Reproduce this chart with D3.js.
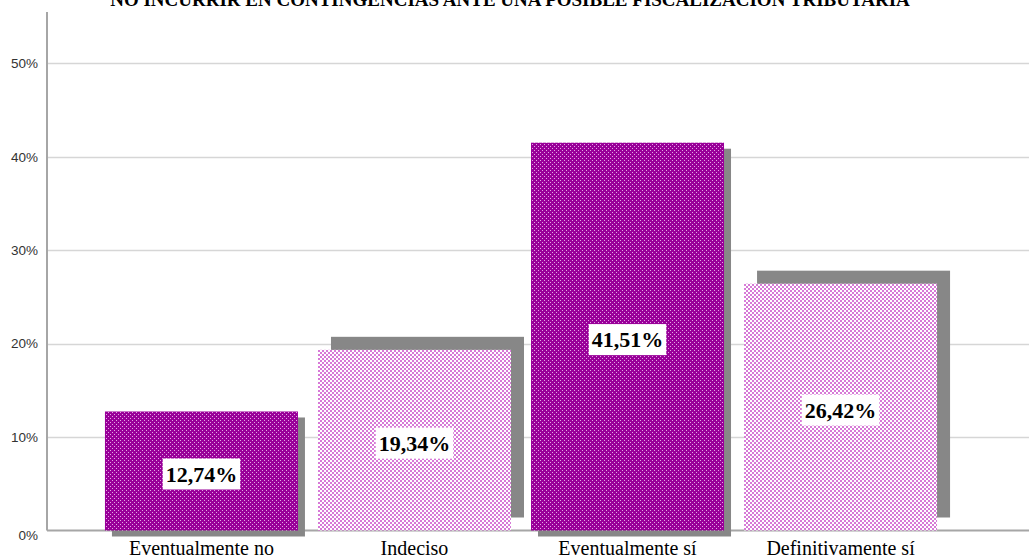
<!DOCTYPE html>
<html>
<head>
<meta charset="utf-8">
<script src="https://cdn.jsdelivr.net/npm/d3@7"></script>
<style>
  html, body { margin: 0; padding: 0; background: #fff; }
  svg { display: block; }
</style>
</head>
<body>
<svg id="chart" width="1029" height="560"></svg>
<script>
// Survey responses (percentage of respondents)
const chartTitle = "NO INCURRIR EN CONTINGENCIAS ANTE UNA POSIBLE FISCALIZACIÓN TRIBUTARIA";
const categories = ["Eventualmente no", "Indeciso", "Eventualmente sí", "Definitivamente sí"];
const percentages = [12.74, 19.34, 41.51, 26.42];
const yTicks = [0, 10, 20, 30, 40, 50];

const svg = d3.select("#chart");
const W = 1029, H = 560;
const axisX = 47, baseY = 530.5, topY = 12;

const x = d3.scaleBand()
  .domain(categories)
  .range([axisX, 995])
  .paddingInner(0.094)
  .paddingOuter(0.272);

const y = d3.scaleLinear()
  .domain([0, 55.5])
  .range([baseY, topY]);

// dotted fills
const defs = svg.append("defs");
const dark = defs.append("pattern")
  .attr("id", "dotDark").attr("width", 4).attr("height", 4)
  .attr("patternUnits", "userSpaceOnUse");
dark.append("rect").attr("width", 4).attr("height", 4).attr("fill", "#990099");
dark.append("rect").attr("x", 0).attr("y", 0).attr("width", 1).attr("height", 1).attr("fill", "#e4a6e4");
dark.append("rect").attr("x", 2).attr("y", 2).attr("width", 1).attr("height", 1).attr("fill", "#e4a6e4");

const light = defs.append("pattern")
  .attr("id", "dotLight").attr("width", 4).attr("height", 4)
  .attr("patternUnits", "userSpaceOnUse");
light.append("rect").attr("width", 4).attr("height", 4).attr("fill", "#ffffff");
light.append("rect").attr("x", 0).attr("y", 0).attr("width", 2).attr("height", 2).attr("fill", "#d77ad7");
light.append("rect").attr("x", 2).attr("y", 2).attr("width", 2).attr("height", 2).attr("fill", "#d77ad7");

// title (sits at the very top edge)
svg.append("text")
  .attr("x", 510).attr("y", 6)
  .attr("text-anchor", "middle")
  .attr("font-family", "'Liberation Serif', 'Times New Roman', serif")
  .attr("font-weight", "bold")
  .attr("font-size", 19)
  .attr("fill", "#000")
  .text(chartTitle);

// gridlines
svg.append("g")
  .selectAll("line")
  .data(yTicks.filter(d => d > 0))
  .join("line")
  .attr("x1", axisX).attr("x2", W)
  .attr("y1", d => Math.round(y(d)) + 0.5).attr("y2", d => Math.round(y(d)) + 0.5)
  .attr("stroke", "#d6d6d6").attr("stroke-width", 1.5);

// y axis
const yAxis = d3.axisLeft(y)
  .tickValues(yTicks)
  .tickSize(0)
  .tickPadding(9)
  .tickFormat(d => d + "%");
const gy = svg.append("g")
  .attr("transform", `translate(${axisX},0)`)
  .call(yAxis);
gy.select(".domain").remove();
gy.selectAll("text")
  .attr("font-family", "'Liberation Sans', Arial, sans-serif")
  .attr("font-size", 13.5)
  .attr("fill", "#333");
gy.selectAll("text").filter(d => d === 0).attr("dy", "0.65em");

svg.append("line")
  .attr("x1", axisX).attr("x2", axisX)
  .attr("y1", topY).attr("y2", baseY)
  .attr("stroke", "#a6a6a6").attr("stroke-width", 2);
svg.append("line")
  .attr("x1", axisX).attr("x2", W)
  .attr("y1", baseY).attr("y2", baseY)
  .attr("stroke", "#a6a6a6").attr("stroke-width", 2);

// shadow offsets alternate with the fill style
const shadowDx = i => i % 2 === 0 ? 7 : 13;
const shadowDy = i => i % 2 === 0 ? 6 : -13;

const data = categories.map((c, i) => ({ c, v: percentages[i], i }));

svg.append("g")
  .selectAll("rect")
  .data(data)
  .join("rect")
  .attr("x", d => x(d.c) + shadowDx(d.i))
  .attr("y", d => y(d.v) + shadowDy(d.i))
  .attr("width", x.bandwidth())
  .attr("height", d => baseY - y(d.v))
  .attr("fill", "#878787");

svg.append("g")
  .selectAll("rect")
  .data(data)
  .join("rect")
  .attr("x", d => x(d.c))
  .attr("y", d => y(d.v))
  .attr("width", x.bandwidth())
  .attr("height", d => baseY - y(d.v))
  .attr("fill", d => d.i % 2 === 0 ? "url(#dotDark)" : "url(#dotLight)");

// value labels on white boxes
const fmt = v => v.toFixed(2).replace(".", ",") + "%";
const labels = svg.append("g")
  .selectAll("g")
  .data(data)
  .join("g")
  .attr("transform", d => `translate(${x(d.c) + x.bandwidth() / 2},${(y(d.v) + baseY) / 2 + 3})`);
labels.append("text")
  .attr("text-anchor", "middle")
  .attr("dy", "0.35em")
  .attr("font-family", "'Liberation Serif', 'Times New Roman', serif")
  .attr("font-weight", "bold")
  .attr("font-size", 22)
  .attr("fill", "#000")
  .text(d => fmt(d.v));
labels.each(function () {
  const g = d3.select(this);
  const bb = g.select("text").node().getBBox();
  g.insert("rect", "text")
    .attr("x", bb.x - 3).attr("y", -15.5)
    .attr("width", bb.width + 6).attr("height", 31)
    .attr("fill", "#fff");
});

// category labels
svg.append("g")
  .selectAll("text")
  .data(categories)
  .join("text")
  .attr("x", d => x(d) + x.bandwidth() / 2)
  .attr("y", 555)
  .attr("text-anchor", "middle")
  .attr("font-family", "'Liberation Serif', 'Times New Roman', serif")
  .attr("font-size", 20)
  .attr("fill", "#000")
  .text(d => d);
</script>
</body>
</html>
